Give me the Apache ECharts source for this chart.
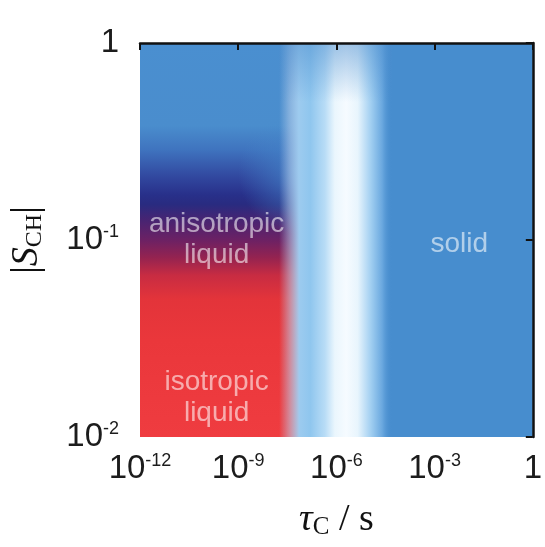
<!DOCTYPE html>
<html>
<head>
<meta charset="utf-8">
<script src="https://cdn.jsdelivr.net/npm/echarts@6/dist/echarts.min.js"></script>
<style>
  html, body { margin: 0; padding: 0; background: #fff; }
  #chart { width: 545px; height: 547px; }
</style>
</head>
<body>
<div id="chart"></div>
<script>
// axis ranges, in log10 units
var tauRange = [-12, 0];
var sRange = [-2, 0];
var tauTicks = [-12, -9, -6, -3, 0];
var sTicks = [-2, -1, 0];

// phase regions: [tauFrom, tauTo, sFrom, sTo] (log10)
var solidRegion = [-12, 0, -2, 0];
var liquidRegion = [-12, -7.14, -2, 0];
var liquidFade = [-9.2, -7.14, -0.98, -0.4];
var transitionBand = [-7.75, -4.3, -2, 0];
var transitionTop = [-7.75, -4.3, -0.3, 0];

// colour of the liquid phase going down |S_CH| (log10 value, colour)
var liquidProfile = [
    [0, '#4a8fd0'],
    [-0.42, '#4a8dcd'],
    [-0.54, '#3f74bf'],
    [-0.675, '#3249a0'],
    [-0.77, '#28308a'],
    [-0.82, '#292b80'],
    [-0.9, '#482472'],
    [-1.0, '#6c2164'],
    [-1.09, '#952350'],
    [-1.18, '#c82c42'],
    [-1.3, '#e3343a'],
    [-1.51, '#ea373b'],
    [-2, '#ef3c40']
];

// colour across the transition band (log10 tau, colour)
var transitionProfile = [
    [-7.75, 'rgba(180,205,235,0)'],
    [-7.45, 'rgba(185,208,236,0.5)'],
    [-7.15, 'rgba(160,205,240,0.97)'],
    [-6.8, '#8fc6ee'],
    [-6.35, '#b8dcf6'],
    [-6.05, '#eaf6fd'],
    [-5.7, '#f6fbff'],
    [-5.35, '#e8f5fd'],
    [-4.95, '#a2cff1'],
    [-4.6, '#6aa8df'],
    [-4.3, 'rgba(71,141,206,0)']
];

// text inside the plot: [tau, S, text]
var regionLabels = [
    [-9.66, -1.0, 'anisotropic\nliquid'],
    [-9.66, -1.8, 'isotropic\nliquid'],
    [-2.25, -1.02, 'solid']
];

var chart = echarts.init(document.getElementById('chart'));

function stopsOf(profile, from, to) {
    return profile.map(function (p) {
        return { offset: (p[0] - from) / (to - from), color: p[1] };
    });
}

function tickLabel(v) {
    if (v === 0) return '{b|1}';
    return '{b|10}{s|' + v + '}';
}

var tickRich = {
    b: { fontSize: 33, lineHeight: 34, fontFamily: 'Liberation Sans', color: '#1c1c1c' },
    s: { fontSize: 18, lineHeight: 18, fontFamily: 'Liberation Sans', color: '#1c1c1c', verticalAlign: 'top' }
};

var regions = [
    { value: solidRegion, kind: 'solid' },
    { value: liquidRegion, kind: 'liquid' },
    { value: liquidFade, kind: 'fade' },
    { value: transitionBand, kind: 'band' },
    { value: transitionTop, kind: 'top' }
];

var option = {
    animation: false,
    grid: { left: 140, top: 43, right: 10, bottom: 110 },
    xAxis: {
        type: 'value',
        min: tauRange[0],
        max: tauRange[1],
        interval: 3,
        z: 10,
        name: '{i|τ}{sub|C}{n| / s}',
        nameLocation: 'middle',
        nameGap: 63,
        nameTextStyle: {
            rich: {
                i: { fontSize: 38, lineHeight: 40, fontFamily: 'Liberation Serif', fontStyle: 'italic', color: '#111' },
                sub: { fontSize: 25, lineHeight: 25, fontFamily: 'Liberation Serif', color: '#111', verticalAlign: 'bottom' },
                n: { fontSize: 38, lineHeight: 40, fontFamily: 'Liberation Serif', color: '#111' }
            }
        },
        axisLine: { lineStyle: { color: '#111', width: 2.5 } },
        axisTick: { show: true, inside: false, length: 7, lineStyle: { color: '#111', width: 2 } },
        axisLabel: { margin: 15, formatter: tickLabel, rich: tickRich },
        splitLine: { show: false }
    },
    yAxis: {
        type: 'value',
        min: sRange[0],
        max: sRange[1],
        interval: 1,
        z: 10,
        name: '{v||}{i|S}{sub|CH}{v||}',
        nameLocation: 'middle',
        nameRotate: 90,
        nameGap: 93,
        nameTextStyle: {
            rich: {
                v: { fontSize: 38, lineHeight: 40, fontFamily: 'Liberation Serif', color: '#111' },
                i: { fontSize: 38, lineHeight: 40, fontFamily: 'Liberation Serif', fontStyle: 'italic', color: '#111' },
                sub: { fontSize: 24, lineHeight: 24, fontFamily: 'Liberation Serif', color: '#111', verticalAlign: 'bottom' }
            }
        },
        axisLine: { lineStyle: { color: '#111', width: 2.5 } },
        axisTick: { show: true, inside: false, length: 7, lineStyle: { color: '#111', width: 2 } },
        axisLabel: { margin: 21, formatter: tickLabel, rich: tickRich },
        splitLine: { show: false }
    },
    series: [
        {
            type: 'custom',
            silent: true,
            data: regions,
            encode: { x: [0, 1], y: [2, 3] },
            renderItem: function (params, api) {
                var r = regions[params.dataIndex];
                var p0 = api.coord([api.value(0), api.value(3)]);
                var p1 = api.coord([api.value(1), api.value(2)]);
                var fill;
                if (r.kind === 'solid') {
                    fill = '#478dce';
                } else if (r.kind === 'liquid') {
                    fill = new echarts.graphic.LinearGradient(0, 0, 0, 1,
                        stopsOf(liquidProfile, api.value(3), api.value(2)));
                } else if (r.kind === 'fade') {
                    // the dark blue layer thins out towards the transition
                    fill = new echarts.graphic.RadialGradient(1, 0.45, 0.9, [
                        { offset: 0, color: 'rgba(70,138,205,0.75)' },
                        { offset: 1, color: 'rgba(70,138,205,0)' }
                    ]);
                } else if (r.kind === 'band') {
                    fill = new echarts.graphic.LinearGradient(0, 0, 1, 0,
                        stopsOf(transitionProfile, api.value(0), api.value(1)));
                } else {
                    fill = new echarts.graphic.LinearGradient(0, 0, 0, 1, [
                        { offset: 0, color: 'rgba(74,140,205,0.5)' },
                        { offset: 1, color: 'rgba(74,140,205,0)' }
                    ]);
                }
                return {
                    type: 'rect',
                    shape: { x: p0[0], y: p0[1], width: p1[0] - p0[0], height: p1[1] - p0[1] },
                    style: { fill: fill }
                };
            }
        },
        {
            type: 'scatter',
            silent: true,
            symbolSize: 0,
            data: regionLabels,
            label: {
                show: true,
                position: 'inside',
                formatter: function (p) { return p.data[2]; },
                fontFamily: 'Liberation Sans',
                fontSize: 28,
                lineHeight: 31,
                color: 'rgba(255,255,255,0.72)'
            }
        }
    ]
};

chart.setOption(option);
</script>
</body>
</html>
